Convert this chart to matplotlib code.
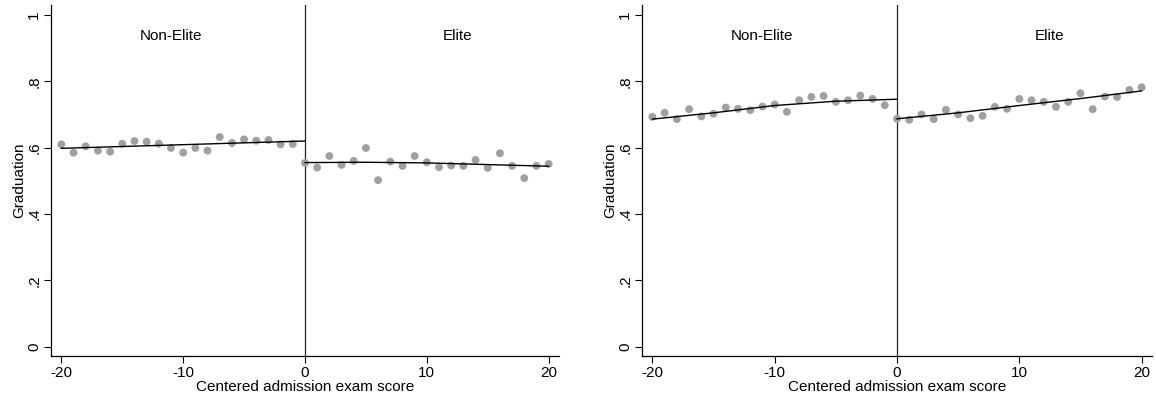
import matplotlib
matplotlib.use("Agg")
import matplotlib.pyplot as plt
import numpy as np

plt.rcParams['font.family'] = ['Liberation Sans', 'DejaVu Sans']

# binned means, left of cutoff (x=-20..-1) and right (x=0..20)
x_left = np.arange(-20, 0)
x_right = np.arange(0, 21)

p1_left = [0.610, 0.585, 0.604, 0.591, 0.588, 0.612, 0.620, 0.618, 0.612, 0.599,
           0.585, 0.599, 0.591, 0.632, 0.614, 0.625, 0.621, 0.623, 0.610, 0.611]
p1_right = [0.554, 0.540, 0.575, 0.548, 0.560, 0.599, 0.502, 0.558, 0.545, 0.575,
            0.556, 0.541, 0.546, 0.545, 0.563, 0.539, 0.583, 0.545, 0.508, 0.545, 0.551]

p2_left = [0.693, 0.705, 0.686, 0.716, 0.694, 0.702, 0.721, 0.717, 0.713, 0.724,
           0.730, 0.708, 0.743, 0.753, 0.756, 0.738, 0.743, 0.757, 0.747, 0.728]
p2_right = [0.687, 0.684, 0.700, 0.686, 0.714, 0.700, 0.689, 0.696, 0.723, 0.717,
            0.747, 0.743, 0.738, 0.723, 0.738, 0.764, 0.716, 0.754, 0.753, 0.774, 0.782]

# fitted lines
fit_x_left = [-20, -15, -10, -5, 0]
fit_x_right = [0, 5, 10, 15, 20]
p1_fit_left = [0.598, 0.6035, 0.609, 0.6145, 0.620]
p1_fit_right = [0.555, 0.556, 0.554, 0.549, 0.544]
p2_fit_left = [0.686, 0.705, 0.727, 0.740, 0.746]
p2_fit_right = [0.687, 0.705, 0.727, 0.748, 0.771]

yticks = [0, 0.2, 0.4, 0.6, 0.8, 1.0]
ylabels = ['0', '.2', '.4', '.6', '.8', '1']
xticks = [-20, -10, 0, 10, 20]

fig = plt.figure(figsize=(11.56, 4.0), dpi=100)
ax1 = fig.add_axes([51 / 1156, 44 / 400, 508 / 1156, 351 / 400])
ax2 = fig.add_axes([642 / 1156, 44 / 400, 510 / 1156, 351 / 400])

panels = [
    (ax1, p1_left, p1_right, p1_fit_left, p1_fit_right),
    (ax2, p2_left, p2_right, p2_fit_left, p2_fit_right),
]

for ax, yl, yr, fl, fr in panels:
    ax.scatter(x_left, yl, s=32, color='#a0a0a0', edgecolors='none', zorder=2)
    ax.scatter(x_right, yr, s=32, color='#a0a0a0', edgecolors='none', zorder=2)
    ax.plot(fit_x_left, fl, color='black', lw=1.0, zorder=3)
    ax.plot(fit_x_right, fr, color='black', lw=1.0, zorder=3)
    ax.axvline(0, color='#222222', lw=0.9, zorder=1)

    ax.set_xlim(-20.85, 20.85)
    ax.set_ylim(-0.028, 1.03)
    ax.set_xticks(xticks)
    ax.set_xticklabels([str(t) for t in xticks])
    ax.set_yticks(yticks)
    ax.set_yticklabels(ylabels, rotation=90, va='center')
    ax.tick_params(direction='out', length=5, width=0.8, labelsize=11, pad=2)

    for side in ['top', 'right']:
        ax.spines[side].set_visible(False)
    for side in ['left', 'bottom']:
        ax.spines[side].set_linewidth(0.9)

    ax.set_xlabel('Centered admission exam score', fontsize=11, labelpad=0)
    ax.set_ylabel('Graduation', fontsize=11, labelpad=1)

    ax.text(-11, 0.937, 'Non-Elite', ha='center', va='center', fontsize=11)
    ax.text(12.5, 0.937, 'Elite', ha='center', va='center', fontsize=11)

fig.savefig('out.png', dpi=100)
